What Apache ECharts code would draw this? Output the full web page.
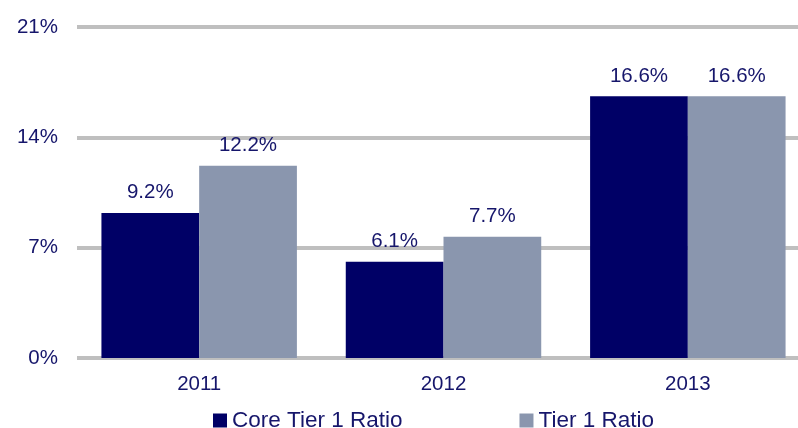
<!DOCTYPE html>
<html>
<head>
<meta charset="utf-8">
<script src="https://cdn.jsdelivr.net/npm/echarts@6/dist/echarts.min.js"></script>
<style>
  html, body { margin: 0; padding: 0; background: #fff; overflow: hidden; }
  /* wider than the window: the plot runs past the right edge, like the original */
  #chart { width: 810px; height: 428px; }
</style>
</head>
<body>
<div id="chart"></div>
<script>
// data
var years = ['2011', '2012', '2013'];
var coreTier1 = [9.2, 6.1, 16.6];
var tier1 = [12.2, 7.7, 16.6];
var seriesNames = ['Core Tier 1 Ratio', 'Tier 1 Ratio'];

var textColor = '#16166B';
var font = 'Liberation Sans, Arial, sans-serif';

var myChart = echarts.init(document.getElementById('chart'));

var labelOpt = {
    show: true,
    position: 'top',
    distance: 10,
    color: textColor,
    fontFamily: font,
    fontSize: 20.5,
    formatter: function (p) { return p.value.toFixed(1) + '%'; }
};

var option = {
    animation: false,
    textStyle: { fontFamily: font },
    grid: { left: 77, right: 0, top: 27, bottom: 70, containLabel: false },
    legend: {
        data: seriesNames,
        left: 213,
        top: 409,
        padding: 0,
        icon: 'rect',
        itemWidth: 14,
        itemHeight: 14,
        itemGap: 117,
        textStyle: { color: textColor, fontFamily: font, fontSize: 22.5 }
    },
    xAxis: {
        type: 'category',
        data: years,
        axisLine: { show: false },
        axisTick: { show: false },
        axisLabel: { color: textColor, fontFamily: font, fontSize: 20.5, margin: 16 }
    },
    yAxis: {
        type: 'value',
        min: 0,
        max: 21,
        interval: 7,
        axisLine: { show: false },
        axisTick: { show: false },
        axisLabel: { color: textColor, fontFamily: font, fontSize: 20.5, margin: 19, formatter: '{value}%' },
        splitLine: { lineStyle: { color: '#BFBFBF', width: 4 } }
    },
    series: [
        {
            name: seriesNames[0],
            type: 'bar',
            data: coreTier1,
            barGap: '0%',
            barCategoryGap: '20%',
            itemStyle: { color: '#000066' },
            label: labelOpt
        },
        {
            name: seriesNames[1],
            type: 'bar',
            data: tier1,
            itemStyle: { color: '#8A96AE' },
            label: labelOpt
        }
    ]
};

myChart.setOption(option);
</script>
</body>
</html>
